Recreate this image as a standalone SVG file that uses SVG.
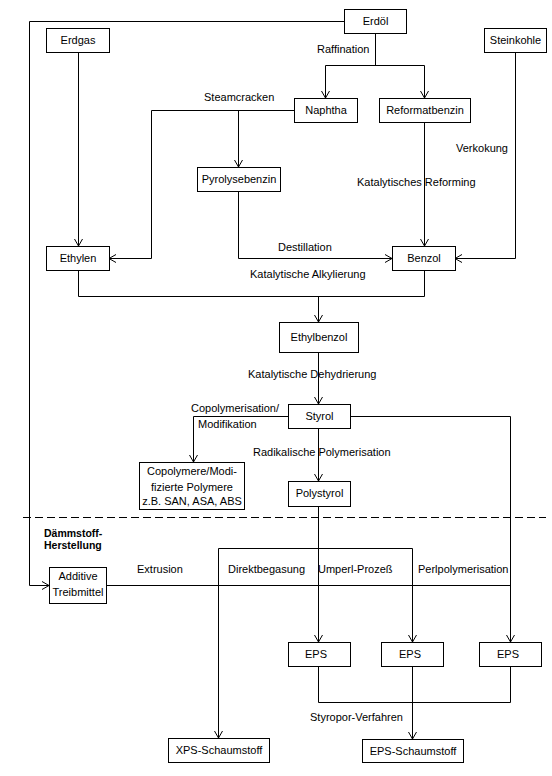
<svg xmlns="http://www.w3.org/2000/svg" width="552" height="776" viewBox="0 0 552 776">
<style>
rect.n{fill:#fff;stroke:#000;stroke-width:1}
text{font-family:"Liberation Sans",Arial,sans-serif;font-size:11px;fill:#000}
.c{text-anchor:middle}
.b{font-weight:bold;font-size:10.5px}
#connectors path{fill:none;stroke:#000;stroke-width:1}
</style>
<defs>
<marker id="a" markerUnits="userSpaceOnUse" markerWidth="12" markerHeight="12" viewBox="-8 -6 10 12" refX="0" refY="0" orient="auto">
<path d="M-7,-4 L0,0 L-7,4" fill="none" stroke="#000" stroke-width="1"/>
</marker>
</defs>
<rect width="552" height="776" fill="#fff"/>
<g id="connectors">
<path d="M344,21.5 H29.5 V585.5 H49" marker-end="url(#a)"/>
<path d="M78.5,52 V246" marker-end="url(#a)"/>
<path d="M375.5,33 V65.5"/>
<path d="M325.5,65.5 H424.5"/>
<path d="M325.5,65.5 V98" marker-end="url(#a)"/>
<path d="M424.5,65.5 V98" marker-end="url(#a)"/>
<path d="M294,110.5 H151.5 V258.5 H109" marker-end="url(#a)"/>
<path d="M238.5,110.5 V167" marker-end="url(#a)"/>
<path d="M238.5,191 V258.5 H392" marker-end="url(#a)"/>
<path d="M424.5,122 V246" marker-end="url(#a)"/>
<path d="M515.5,52 V258.5 H455" marker-end="url(#a)"/>
<path d="M78.5,270 V296.5 H424.5 V270"/>
<path d="M318.5,296.5 V322" marker-end="url(#a)"/>
<path d="M318.5,352 V404" marker-end="url(#a)"/>
<path d="M288,416.5 H193.5 V462" marker-end="url(#a)"/>
<path d="M350,416.5 H510.5 V642" marker-end="url(#a)"/>
<path d="M318.5,428 V481" marker-end="url(#a)"/>
<path d="M318.5,506 V642" marker-end="url(#a)"/>
<path d="M218.5,548.5 H412.5"/>
<path d="M218.5,548.5 V738" marker-end="url(#a)"/>
<path d="M412.5,548.5 V642" marker-end="url(#a)"/>
<path d="M107,585.5 H510.5"/>
<path d="M318.5,666 V702.5 H510.5 V666"/>
<path d="M412.5,666 V739" marker-end="url(#a)"/>
<path d="M23,517.5 H546" stroke-dasharray="8,4"/>
</g>
<g id="labels">
<text x="317" y="53">Raffination</text>
<text x="204" y="101">Steamcracken</text>
<text x="456" y="152">Verkokung</text>
<text x="357" y="186">Katalytisches Reforming</text>
<text x="278" y="251">Destillation</text>
<text x="250" y="278">Katalytische Alkylierung</text>
<text x="248" y="378">Katalytische Dehydrierung</text>
<text x="191" y="412">Copolymerisation/</text>
<text x="198" y="428">Modifikation</text>
<text x="253" y="456">Radikalische Polymerisation</text>
<text class="b" x="44" y="537">Dämmstoff-</text>
<text class="b" x="44" y="549">Herstellung</text>
<text x="137" y="573">Extrusion</text>
<text x="228" y="573">Direktbegasung</text>
<text x="318" y="573">Umperl-Prozeß</text>
<text x="418" y="573">Perlpolymerisation</text>
<text x="310" y="721">Styropor-Verfahren</text>
</g>
<g id="erdoel"><rect class="n" x="344.5" y="9.5" width="62" height="24"/><text class="c" x="375.5" y="25">Erdöl</text></g>
<g id="erdgas"><rect class="n" x="46.5" y="28.5" width="63" height="24"/><text class="c" x="78" y="44">Erdgas</text></g>
<g id="steinkohle"><rect class="n" x="484.5" y="28.5" width="62" height="24"/><text class="c" x="515.5" y="44">Steinkohle</text></g>
<g id="naphtha"><rect class="n" x="294.5" y="98.5" width="63" height="24"/><text class="c" x="326" y="114">Naphtha</text></g>
<g id="reformatbenzin"><rect class="n" x="379.5" y="98.5" width="91" height="24"/><text class="c" x="425" y="114">Reformatbenzin</text></g>
<g id="pyrolysebenzin"><rect class="n" x="197.5" y="167.5" width="83" height="24"/><text class="c" x="239" y="183">Pyrolysebenzin</text></g>
<g id="ethylen"><rect class="n" x="46.5" y="246.5" width="63" height="24"/><text class="c" x="78" y="262">Ethylen</text></g>
<g id="benzol"><rect class="n" x="392.5" y="246.5" width="63" height="24"/><text class="c" x="424" y="262">Benzol</text></g>
<g id="ethylbenzol"><rect class="n" x="279.5" y="322.5" width="79" height="30"/><text class="c" x="319" y="341">Ethylbenzol</text></g>
<g id="styrol"><rect class="n" x="288.5" y="404.5" width="62" height="24"/><text class="c" x="319.5" y="420">Styrol</text></g>
<g id="copolymere"><rect class="n" x="139.5" y="462.5" width="105" height="47"/><text class="c" x="192" y="475">Copolymere/Modi-</text><text class="c" x="192" y="491">fizierte Polymere</text><text class="c" x="192" y="505">z.B. SAN, ASA, ABS</text></g>
<g id="polystyrol"><rect class="n" x="288.5" y="481.5" width="62" height="25"/><text class="c" x="319.5" y="497">Polystyrol</text></g>
<g id="additive"><rect class="n" x="49.5" y="567.5" width="57" height="36"/><text class="c" x="78" y="580">Additive</text><text class="c" x="78" y="596">Treibmittel</text></g>
<g id="eps1"><rect class="n" x="288.5" y="642.5" width="62" height="24"/><text class="c" x="316" y="658">EPS</text></g>
<g id="eps2"><rect class="n" x="381.5" y="642.5" width="62" height="24"/><text class="c" x="410" y="658">EPS</text></g>
<g id="eps3"><rect class="n" x="479.5" y="642.5" width="62" height="24"/><text class="c" x="508" y="658">EPS</text></g>
<g id="xps"><rect class="n" x="168.5" y="738.5" width="101" height="24"/><text class="c" x="219" y="754">XPS-Schaumstoff</text></g>
<g id="epsschaum"><rect class="n" x="362.5" y="739.5" width="101" height="23"/><text class="c" x="413" y="755">EPS-Schaumstoff</text></g>
</svg>
